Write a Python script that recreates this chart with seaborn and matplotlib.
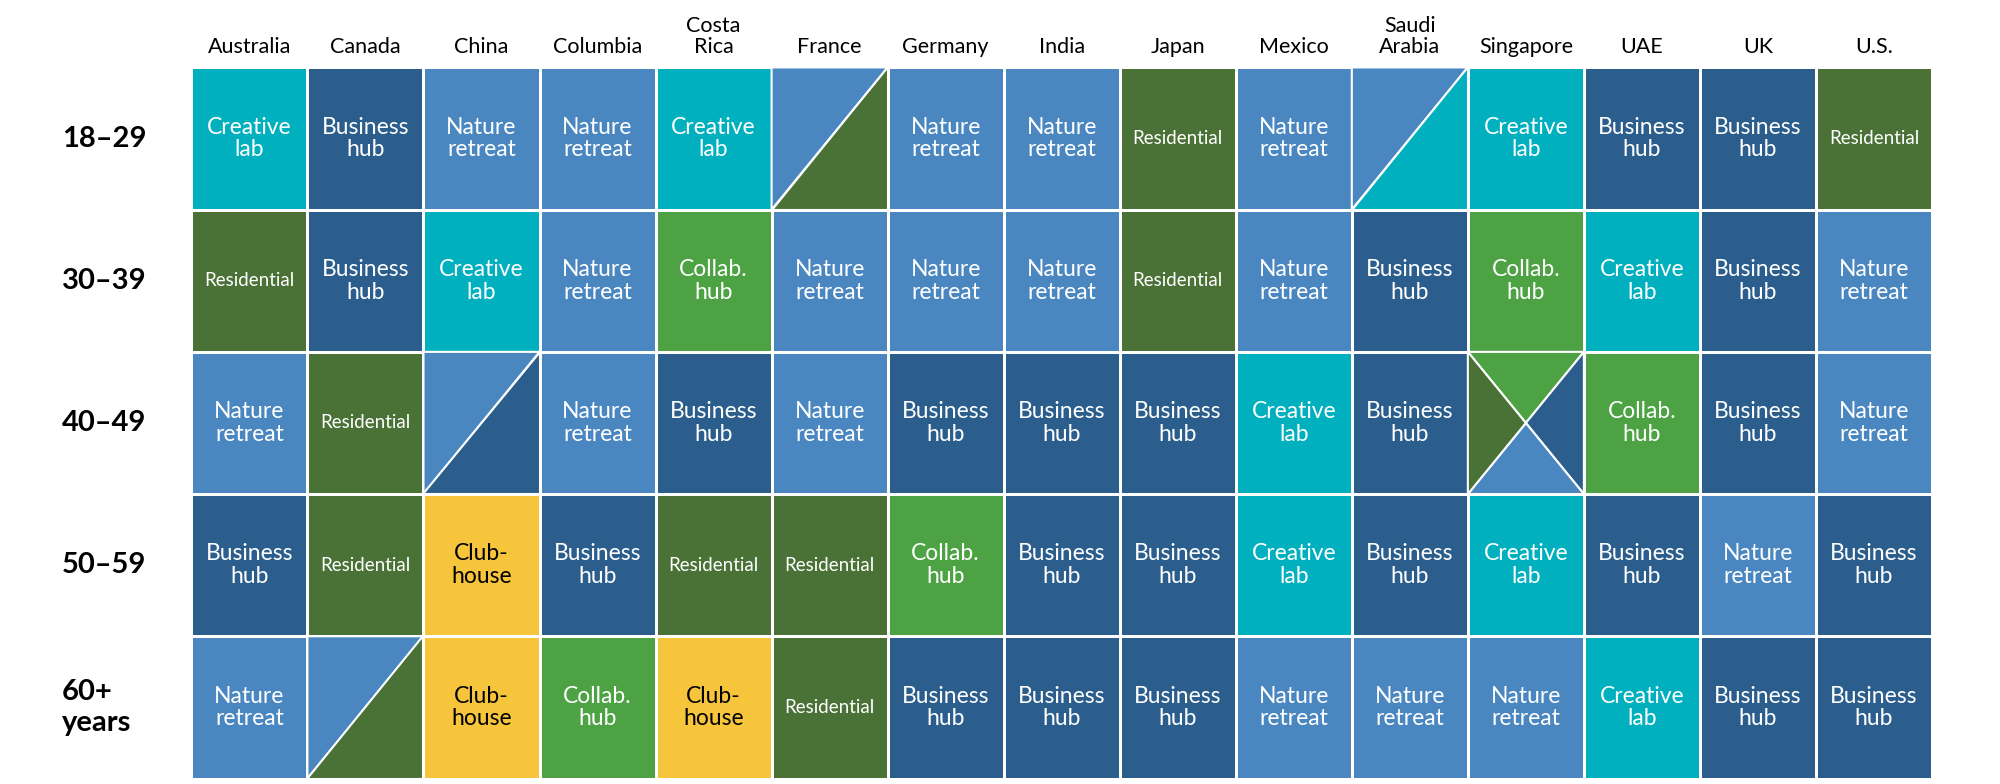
import matplotlib
matplotlib.use("Agg")
import matplotlib.pyplot as plt
import seaborn as sns
import numpy as np
from matplotlib.colors import ListedColormap
from matplotlib.patches import Polygon

countries = ["Australia","Canada","China","Columbia","Costa\nRica","France","Germany","India",
             "Japan","Mexico","Saudi\nArabia","Singapore","UAE","UK","U.S."]
ages = ["18–29","30–39","40–49","50–59","60+\nyears"]
types = ["C","B","N","R","H","U"]
labels = {"C":"Creative\nlab","B":"Business\nhub","N":"Nature\nretreat","R":"Residential",
          "H":"Collab.\nhub","U":"Club-\nhouse"}
colors = {"C":"#00B0BE","B":"#2B5E8C","N":"#4A87C1","R":"#4A7136","H":"#4DA244","U":"#F6C53C"}

row_18_29 = ["C","B","N","N","C","N/R","N","N","R","N","N/C","C","B","B","R"]
row_30_39 = ["R","B","C","N","H","N","N","N","R","N","B","H","C","B","N"]
row_40_49 = ["N","R","N/B","N","B","N","B","B","B","C","B","H|B|N|R","H","B","N"]
row_50_59 = ["B","R","U","B","R","R","H","B","B","C","B","C","B","N","B"]
row_60 = ["N","N/R","U","H","U","R","B","B","B","N","N","N","C","B","B"]
grid = [row_18_29,row_30_39,row_40_49,row_50_59,row_60]

mat = np.array([[types.index(c[0]) for c in r] for r in grid])
cmap = ListedColormap([colors[t] for t in types])

fig = plt.figure(figsize=(20,7.84), dpi=100)
ax = fig.add_axes([0.0957,0.007,0.8703,0.907])
sns.heatmap(mat, cmap=cmap, vmin=-0.5, vmax=5.5, cbar=False, linewidths=2, linecolor="white",
            ax=ax, xticklabels=False, yticklabels=False)

for i,r in enumerate(grid):
    for j,c in enumerate(r):
        if "/" in c:
            a,b = c.split("/")
            ax.add_patch(Polygon([(j,i),(j+1,i),(j,i+1)], closed=True, fc=colors[a], ec="white", lw=1.5))
            ax.add_patch(Polygon([(j+1,i),(j+1,i+1),(j,i+1)], closed=True, fc=colors[b], ec="white", lw=1.5))
        elif "|" in c:
            t,rt,bt,lt = c.split("|")
            cx,cy = j+0.5,i+0.5
            for k,pts in zip([t,rt,bt,lt],[[(j,i),(j+1,i)],[(j+1,i),(j+1,i+1)],[(j+1,i+1),(j,i+1)],[(j,i+1),(j,i)]]):
                ax.add_patch(Polygon(pts+[(cx,cy)], closed=True, fc=colors[k], ec="white", lw=1.5))
        else:
            fs = 13.5 if c=="R" else 16.5
            col = "black" if c=="U" else "white"
            ax.text(j+0.5,i+0.5,labels[c],ha="center",va="center",color=col,fontsize=fs,
                    family="Lato",linespacing=1.1)

for j,name in enumerate(countries):
    ax.text(j+0.5,-0.07,name,ha="center",va="bottom",fontsize=15.5,family="Lato",linespacing=1.1)
for i,a in enumerate(ages):
    fig.text(0.031, 0.914-(i+0.5)*0.907/5, a, ha="left", va="center", fontsize=21,
             fontweight="bold", family="Lato", linespacing=1.2)
ax.set_xlim(0,15); ax.set_ylim(5,0)
ax.axis("off")
fig.savefig("out.png", dpi=100)
